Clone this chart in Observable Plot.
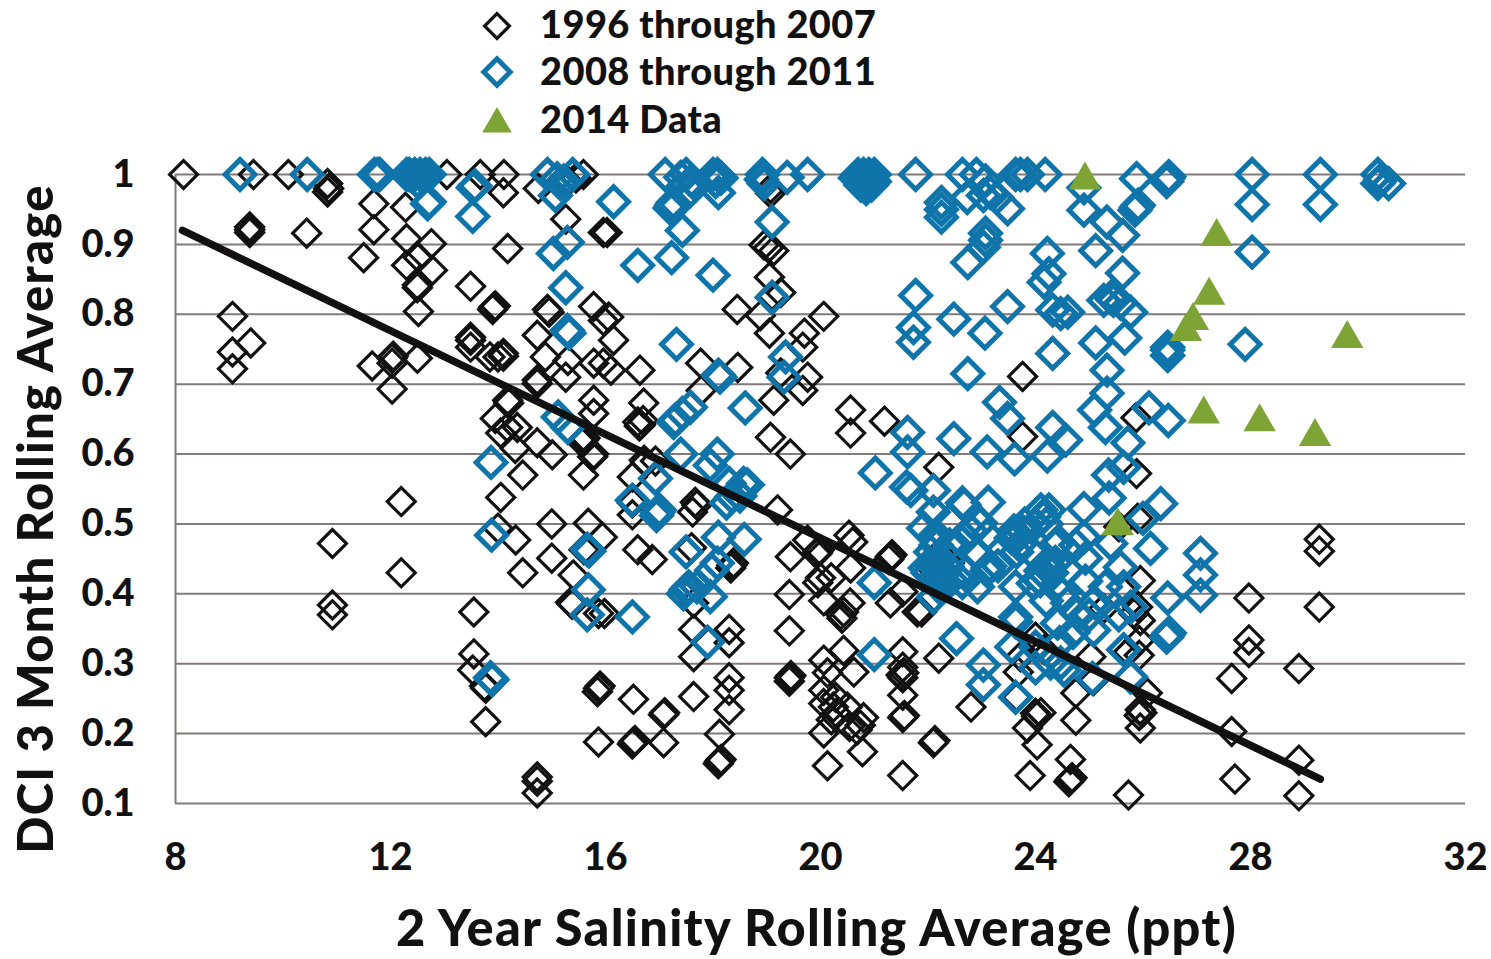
<!DOCTYPE html>
<html><head><meta charset="utf-8">
<script src="https://cdn.jsdelivr.net/npm/d3@7"></script>
<script src="https://cdn.jsdelivr.net/npm/@observablehq/plot@0.6"></script>
<style>
html,body{margin:0;padding:0;background:#fff;width:1491px;height:959px;overflow:hidden}
#legend{position:relative;height:150px;width:1491px;font:900 38px Lato,sans-serif;color:#111;letter-spacing:.4px}
.row{position:absolute;left:480px;height:48px;display:flex;align-items:center}
.row svg{width:34px;height:34px;margin-right:26px;overflow:visible}
#chart svg{display:block}
#chart svg [aria-label="text"]{letter-spacing:1.3px}
</style></head><body>
<div id="legend"></div><div id="chart"></div>
<script>
const legendLabels = ["1996 through 2007","2008 through 2011","2014 Data"];
const xTicks = [8,12,16,20,24,28,32];
const yTicks = [0.1,0.2,0.3,0.4,0.5,0.6,0.7,0.8,0.9,1];
const xTitle = "2 Year Salinity Rolling Average (ppt)";
const yTitle = "DCI 3 Month Rolling Average";
const trend = [[8.13,0.92],[29.3,0.135]];

const early = [
[8.15,1],[9.45,1],[10.1,1],[10.83,.987],[10.85,.98],[10.83,.975],[9.38,.921],[9.38,.925],[9.38,.917],[10.44,.916],
[13.05,1],[13.67,1],[14.11,1],[15.39,1],[15.59,1],[15.45,.995],[15.3,.99],
[11.69,.958],[12.28,.953],[11.69,.921],[12.3,.908],[12.76,.901],[11.5,.881],[12.3,.87],[12.52,.881],[12.78,.863],[12.5,.838],[12.5,.842],[12.52,.804],[13.49,.84],[13.92,.81],[13.9,.807],[13.95,.812],[14.18,.894],[14.1,.974],[14.75,.98],[15.26,.936],[15.96,.917],[14.92,.807],[14.95,.803],[15.78,.811],[15.96,.791],
[9.06,.797],[9.4,.759],[9.06,.746],[9.06,.722],[11.66,.726],[12.03,.737],[12.05,.74],[12.03,.73],[12.5,.737],[12.03,.693],[13.49,.767],[13.49,.763],[13.49,.753],[14.1,.744],[14.1,.74],[14.0,.739],[13.85,.739],[14.73,.77],[14.73,.701],[14.73,.706],[14.88,.739],[15.3,.734],[15.26,.71],[15.78,.73],[15.96,.73],[15.78,.677],[15.78,.658],[14.18,.677],[14.2,.673],[13.95,.651],[14.36,.638],[14.18,.638],[14.05,.63],[14.73,.616],[14.32,.608],[15.01,.599],[15.59,.62],[15.62,.623],[15.57,.616],[15.76,.596],[15.78,.6],[15.59,.57],[14.46,.57],[14.05,.538],
[12.2,.532],[10.92,.472],[12.2,.43],[10.92,.384],[10.92,.37],[14.0,.494],[14.33,.477],[15.0,.5],[15.68,.501],[15.0,.451],[14.46,.43],[15.4,.427],[15.35,.388],[15.38,.385],[15.87,.372],[15.94,.481],[15.6,.463],[13.55,.374],[13.55,.314],[13.53,.291],[13.77,.265],[13.75,.268],[13.77,.217],[15.87,.265],[15.9,.268],[15.85,.26],[15.87,.188],[14.73,.138],[14.73,.132],[14.73,.115],
[16.03,.917],[16.06,.796],[16.15,.763],[16.1,.72],[16.64,.72],[16.71,.673],[16.6,.646],[16.65,.642],[16.7,.648],[16.63,.64],[17.77,.73],[18.46,.724],[17.78,.691],[19.05,.853],[18.95,.899],[19.13,.891],[19.03,.895],[19.26,.831],[19.1,.827],[18.45,.807],[18.88,.798],[19.05,.773],[19.7,.773],[20.06,.797],[19.67,.753],[19.26,.716],[19.76,.71],[19.67,.691],[19.13,.677],[19.07,.624],[19.44,.6],[20.56,.663],[20.56,.63],[21.19,.647],[19.07,.973],[19.07,.98],[18.88,.993],[16.72,.591],[16.75,.588],[16.5,.567],[16.93,.59],
[16.5,.513],[16.5,.53],[17.67,.531],[17.7,.527],[17.62,.517],[19.2,.52],[19.76,.477],[19.95,.46],[19.98,.463],[19.93,.457],[19.44,.453],[20.53,.484],[20.6,.474],[20.56,.437],[21.3,.453],[21.33,.456],[21.27,.449],[20.0,.423],[20.2,.423],[19.95,.416],[19.42,.399],[20.06,.39],[20.55,.387],[20.43,.374],[20.4,.365],[20.38,.37],[21.3,.387],[21.53,.403],[21.8,.374],[15.98,.372],[16.6,.463],[16.87,.449],[17.6,.466],[18.35,.441],[18.38,.444],[18.33,.437],[17.64,.387],[17.64,.349],[17.64,.31],[18.3,.349],[18.3,.33],[19.42,.347],[16.52,.249],[17.08,.227],[17.1,.23],[16.52,.188],[16.55,.19],[16.5,.185],[17.08,.187],[17.64,.253],[18.3,.28],[18.3,.262],[18.3,.234],[18.12,.199],[18.12,.16],[18.15,.163],[18.1,.157],[19.42,.28],[19.45,.283],[19.42,.275],[20.06,.305],[20.43,.319],[20.62,.288],[20.13,.287],[20.06,.262],[20.28,.252],[20.06,.243],[20.3,.229],[20.5,.238],[20.24,.238],[20.8,.223],[20.74,.212],[20.68,.205],[20.54,.21],[20.06,.201],[20.2,.22],[20.78,.174],[20.13,.154],[21.53,.317],[21.53,.295],[21.53,.28],[21.55,.287],[21.5,.284],[21.53,.255],[21.53,.223],[21.56,.226],[21.53,.14],
[21.88,.374],[22.2,.308],[22.1,.187],[22.13,.19],[22.8,.238],[22.23,.46],[22.05,.438],[22.4,.444],[24,.229],[24.02,.225],[24.1,.23],[23.85,.208],[24.03,.184],[23.9,.14],[24.65,.163],[24.65,.134],[24.68,.137],[24.62,.131],[24.75,.258],[24.75,.219],[25.73,.112],[25.95,.234],[25.98,.23],[25.93,.226],[25.95,.208],[26.08,.258],[23.66,.252],[23.68,.288],[23.72,.31],[24,.338],[24.16,.32],[25.08,.276],[25.03,.31],[25.27,.379],[25.95,.419],[25.9,.381],[25.83,.372],[25.95,.362],[25.93,.333],[25.73,.317],[25.93,.312],[25.55,.496],[25.9,.508],[23.76,.711],[23.76,.625],[22.2,.581],[25.87,.652],[25.88,.572],
[29.28,.478],[29.28,.461],[29.28,.381],[27.97,.394],[27.97,.334],[27.97,.316],[28.9,.293],[27.65,.279],[27.65,.203],[28.9,.162],[27.71,.135],[28.9,.111]
];

const middle = [
[9.2,1],[10.45,1],[11.7,1],[11.76,1],[11.8,1],[12.3,1],[12.35,1],[12.45,1],[12.55,1],[12.65,1],[12.72,1],[12.5,.99],[12.69,.958],[12.72,.961],[13.54,.981],[13.57,.984],[13.53,.94],[14.92,1],[15.39,1],[15.07,.97],[15.16,.987],[15.22,.991],[15.1,.994],[15.26,.838],[15.29,.903],[15.03,.887],[15.29,.777],[15.32,.773],[15.12,.653],[15.3,.638],[13.87,.588],
[13.88,.484],[15.66,.464],[15.69,.461],[15.68,.406],[15.66,.37],[13.86,.28],[13.89,.277],
[16.15,.961],[16.6,.87],[17.11,1],[17.4,.996],[17.5,1],[17.6,.991],[17.65,.987],[17.58,.977],[18.08,1],[18.0,1],[18.15,.995],[18.05,.99],[18.1,.974],[17.23,.956],[17.26,.96],[17.2,.952],[17.25,.952],[17.43,.92],[17.23,.881],[18.0,.856],[17.32,.757],[18.1,.713],[18.13,.71],[18.6,.666],[17.3,.649],[17.27,.645],[17.58,.667],[17.43,.658],[17.4,.6],[18.08,.6],[17.95,.584],[18.57,.558],[16.93,.565],[18.92,1],[18.9,.993],[18.95,.987],[19.38,.996],[19.76,1],[19.1,.932],[19.1,.824],
[20.7,1],[20.8,1],[20.9,1],[21,1],[20.75,.985],[20.85,.985],[20.95,.985],[20.85,.98],[20.65,.995],[21.0,.99],
[21.77,1],[21.77,.827],[21.73,.781],[21.73,.76],[21.62,.631],[21.62,.603],[21.02,.573],[21.6,.553],[19.35,.739],[19.32,.71],
[16.5,.534],[16.97,.516],[17,.52],[16.95,.512],[18.35,.539],[18.5,.54],[18.64,.556],[18.3,.558],[18.25,.53],[18.1,.481],[18.58,.478],[17.5,.46],[18.08,.444],[17.98,.434],[17.5,.406],[17.45,.4],[17.55,.41],[17.7,.41],[17.95,.396],[17.9,.331],[16.5,.367],[21,.416],[21,.313],
[22.64,1],[22.9,1],[23.07,.991],[22.73,.967],[23.63,1],[23.72,1],[23.85,1],[24.18,1],[23.16,.974],[23.03,.97],[23.28,.967],[23.48,.951],[22.25,.96],[22.25,.95],[22.25,.939],[23.07,.916],[23.07,.906],[23.03,.896],[22.74,.874],[24.22,.887],[24.25,.858],[24.16,.846],[24.9,.981],[24.9,.949],[25.33,.932],[25.62,.913],[25.12,.891],[25.88,.994],[26.46,.994],[26.48,.997],[26.44,.99],[25.88,.953],[25.91,.956],[25.85,.949],[22.48,.793],[23.48,.811],[23.06,.773],[24.32,.806],[24.6,.803],[24.47,.801],[25.62,.859],[25.27,.82],[25.45,.82],[25.58,.816],[25.4,.824],[25.77,.803],[25.12,.759],[25.66,.766],[26.46,.753],[26.46,.749],[26.46,.741],[24.32,.744],[22.74,.715],[25.33,.72],[25.33,.687],[23.33,.674],[23.48,.651],[25.1,.663],[25.3,.638],[26.11,.666],[26.47,.648],[25.72,.616],[24.32,.638],[24.56,.62],[22.48,.622],[23.1,.603],[23.61,.593],[24.22,.597],[25.64,.581],[25.36,.57],
[21.68,.548],[22.1,.548],[23.12,.531],[22.64,.53],[22.67,.527],[22.1,.517],[21.92,.494],[22.42,.506],[22.6,.477],[22.63,.474],[22.1,.481],[22.13,.478],[22.92,.458],[23.1,.484],[22.98,.501],[23.12,.437],[23.15,.44],[23.1,.433],[22.92,.41],[22.64,.416],[22.3,.43],[22.17,.444],[22.43,.42],[22.3,.416],[22,.43],[21.95,.437],[22.1,.395],
[22.15,.425],[22.2,.435],[22.25,.42],[22.1,.44],[22.2,.41],[22.35,.44],[22.05,.46],[22.15,.47],[22.4,.47],[22.8,.49],[22.7,.43],[23.3,.44],
[23.66,.481],[23.75,.49],[23.6,.49],[23.55,.48],[23.7,.47],[23.65,.46],[23.8,.5],[24.15,.51],[24.1,.52],[24.25,.52],[24,.5],[24.2,.5],[23.9,.462],[24.1,.433],[23.96,.415],[24.25,.44],[24.09,.419],[24.4,.472],[24.43,.475],[24.37,.469],[24.6,.434],[24.37,.445],[24.9,.522],[24.9,.481],[24.93,.451],[25.37,.537],[25.4,.472],[25.58,.438],[25.64,.41],[24.93,.418],[24.6,.387],[25.1,.388],[24.41,.358],[24.77,.372],[25.08,.348],[25.77,.381],[25.64,.32],[25.77,.281],[23.63,.36],[23.63,.367],[23.56,.324],[23.63,.41],
[24.3,.43],[24.5,.4],[24.75,.47],[24.2,.39],[25,.37],[25.3,.41],[25.55,.37],
[26.33,.529],[26.14,.465],[26,.508],[27.07,.458],[27.07,.427],[27.07,.398],[26.46,.394],[26.46,.341],[26.49,.344],[26.44,.338],[22.53,.336],[23.03,.298],[23.03,.27],[23.63,.252],[24,.294],[24.53,.291],[24.28,.301],[25.06,.279],[24.47,.301],[24,.324],[24.7,.345],[24.45,.33],
[28.03,1],[29.3,1],[28.03,.957],[29.3,.957],[28.03,.889],[30.37,1],[30.37,.987],[30.57,.987],[30.42,.992],[27.9,.757]
];

const recent = [[24.92,.992],[27.37,.911],[27.23,.827],[26.93,.791],[26.8,.775],[29.8,.765],[27.13,.657],[28.17,.646],[29.2,.625],[25.53,.497]];

const black="#111111", blue="#0f74aa", green="#7ea436", grid="#807a7a";

const plot = Plot.plot({
  width:1491,height:809,marginLeft:175,marginRight:26,marginTop:24,marginBottom:156,
  style:{background:"transparent",overflow:"visible",fontFamily:"Lato, sans-serif",color:"#111"},
  x:{domain:[8,32]},y:{domain:[0.1,1]},
  marks:[
    Plot.ruleY(yTicks,{stroke:grid,strokeWidth:2}),
    Plot.ruleX([8],{stroke:grid,strokeWidth:2}),
    Plot.axisY(yTicks,{tickSize:0,tickPadding:41,tickFormat:d=>String(d),label:null,fontSize:38,fontWeight:900,fill:"#111"}),
    Plot.axisX(xTicks,{tickSize:0,tickPadding:40,label:null,fontSize:38,fontWeight:900,fill:"#111"}),
    Plot.dot(early,{x:d=>d[0],y:d=>d[1],symbol:"diamond2",r:12.6,stroke:black,strokeWidth:3.2,fill:"none"}),
    Plot.dot(middle,{x:d=>d[0],y:d=>d[1],symbol:"diamond2",r:13.4,stroke:blue,strokeWidth:5,fill:"none"}),
    Plot.dot(recent,{x:d=>d[0],y:d=>d[1],symbol:"triangle",r:12,fill:green,stroke:"none"}),
    Plot.line(trend,{x:d=>d[0],y:d=>d[1],stroke:black,strokeWidth:7.5,strokeLinecap:"round"}),
    Plot.text([xTitle],{frameAnchor:"bottom",dx:-4,dy:126,fontSize:50.5,fontWeight:900,fill:"#111",lineAnchor:"middle"}),
    Plot.text([yTitle],{frameAnchor:"left",textAnchor:"middle",rotate:-90,dx:-138,dy:30,fontSize:49,fontWeight:900,fill:"#111",lineAnchor:"middle"})
  ]
});
document.getElementById("chart").append(plot);

const legendStyles=[
  {type:d3.symbolDiamond2,size:392,fill:"none",stroke:black,sw:3.2,dy:3},
  {type:d3.symbolDiamond2,size:444,fill:"none",stroke:blue,sw:5,dy:2},
  {type:d3.symbolTriangle,size:380,fill:green,stroke:"none",sw:0,dy:6}
];
const legend=d3.select("#legend");
legendLabels.forEach((label,i)=>{
  const row=legend.append("div").attr("class","row").style("top",[-1,46,94][i]+"px");
  const s=legendStyles[i];
  row.append("svg").attr("viewBox","-17 -17 34 34").append("path")
    .attr("d",d3.symbol(s.type,s.size)()).attr("transform",`translate(0,${s.dy})`).attr("fill",s.fill).attr("stroke",s.stroke).attr("stroke-width",s.sw);
  row.append("span").text(label);
});
</script>
</body></html>
